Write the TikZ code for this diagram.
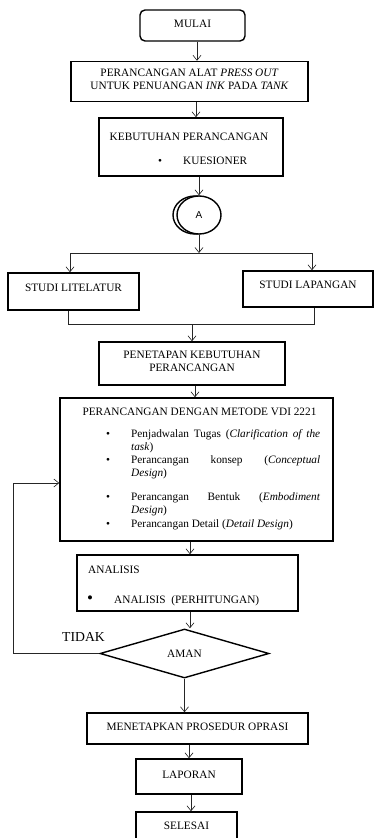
\documentclass[tikz,border=0pt]{standalone}
\usepackage{fontspec}
\setmainfont{Liberation Serif}
\setsansfont{Liberation Sans}
\usetikzlibrary{shapes.geometric,arrows.meta}

\begin{document}
\begin{tikzpicture}[x=1pt,y=-1pt,
    font=\fontsize{11.3}{13}\selectfont,
    kotak/.style={draw, line width=1.4pt, inner sep=0pt, align=center, text depth=4pt},
    teks/.style={inner sep=0pt},
    garis/.style={line width=0.65pt, draw=black!85},
    panah/.style={garis, -{Straight Barb[length=5pt,width=8pt]}}]
    \useasboundingbox (0,0) rectangle (374,838);
    \clip (0,0) rectangle (374,838);

    \node[kotak, rounded corners=5pt, minimum width=105pt, minimum height=31pt] (mulai) at (192.5,25.5) {MULAI};
    \node[kotak, minimum width=237pt, minimum height=40pt] (alat) at (189.5,81.5)
      {PERANCANGAN ALAT \textit{PRESS OUT}\\UNTUK PENUANGAN \textit{INK} PADA \textit{TANK}};

    \node[kotak, minimum width=184pt, minimum height=58pt] (butuh) at (191,147) {};
    \node[teks, anchor=base] (butuhjudul) at (189,140) {KEBUTUHAN PERANCANGAN};
    \node[teks, anchor=base west] (kuesioner) at (158,164) {\makebox[25pt][l]{\textbullet}KUESIONER};

    \draw[line width=1.4pt] (195,215) ellipse [x radius=22pt, y radius=19pt];
    \node[kotak, ellipse, fill=white, minimum width=44pt, minimum height=38pt, text depth=0pt,
      font=\sffamily\fontsize{10}{12}\selectfont] (A) at (199,215) {A};

    \coordinate (pisahL) at (70,253);
    \coordinate (pisahR) at (312,253);
    \node[kotak, text depth=8pt, minimum width=131pt, minimum height=37pt] (literatur) at (73.5,291.5) {STUDI LITELATUR};
    \node[kotak, text depth=8pt, minimum width=130pt, minimum height=36pt] (lapangan) at (308,289) {STUDI LAPANGAN};
    \coordinate (gabungL) at (68,324);
    \coordinate (gabungR) at (314,324);

    \node[kotak, minimum width=186pt, minimum height=43pt] (penetapan) at (192,363.5) {PENETAPAN KEBUTUHAN\\PERANCANGAN};

    \node[kotak, minimum width=273pt, minimum height=143pt] (vdi) at (196.5,469.5) {};
    \node[teks, anchor=base] (vdijudul) at (199.5,415) {PERANCANGAN DENGAN METODE VDI 2221};
    \node[teks, anchor=base west] (tugas) at (106,437)
      {\makebox[25pt][l]{\textbullet}\parbox[t]{189pt}{Penjadwalan Tugas (\textit{Clarification of the}\linebreak\textit{task})}};
    \node[teks, anchor=base west] (konsep) at (106,463)
      {\makebox[25pt][l]{\textbullet}\parbox[t]{189pt}{Perancangan konsep (\textit{Conceptual}\linebreak\textit{Design})}};
    \node[teks, anchor=base west] (bentuk) at (106,500)
      {\makebox[25pt][l]{\textbullet}\parbox[t]{189pt}{Perancangan Bentuk (\textit{Embodiment}\linebreak\textit{Design})}};
    \node[teks, anchor=base west] (detail) at (106,527)
      {\makebox[25pt][l]{\textbullet}Perancangan Detail (\textit{Detail Design})};

    \node[kotak, minimum width=221pt, minimum height=56pt] (analisis) at (187.5,583) {};
    \node[teks, anchor=base west] (analisisjudul) at (88,573) {ANALISIS};
    \node[teks, anchor=base west] (hitung) at (87,603)
      {\makebox[27pt][l]{\fontsize{17}{17}\selectfont\textbullet}ANALISIS\ \ (PERHITUNGAN)};

    \node[kotak, diamond, aspect=3.4, minimum width=169pt, minimum height=49pt, text depth=0pt] (aman) at (184.5,653.5) {AMAN};
    \node[teks, anchor=base, font=\fontsize{13.7}{16}\selectfont] (tidak) at (83.5,641) {TIDAK};
    \coordinate (balik) at (13,483);

    \node[kotak, minimum width=221pt, minimum height=31pt] (menetapkan) at (197.5,728.5) {MENETAPKAN PROSEDUR OPRASI};
    \node[kotak, minimum width=106pt, minimum height=35pt] (laporan) at (189,776.5) {LAPORAN};
    \node[kotak, text depth=10pt, minimum width=101pt, minimum height=38pt] (selesai) at (186.5,831) {SELESAI};

    \draw[panah] ([xshift=4.5pt]mulai.south) -- ([xshift=4.5pt]mulai.south |- alat.north);
    \draw[panah] ([xshift=6.5pt]alat.south) -- ([xshift=6.5pt]alat.south |- butuh.north);
    \draw[panah] (A.north |- butuh.south) -- (A.north);
    \draw[panah] (A.south) -- (A.south |- pisahL);
    \draw[garis] (pisahL) -- (pisahR);
    \draw[panah] (pisahL) -- (pisahL |- literatur.north);
    \draw[panah] (pisahR) -- (pisahR |- lapangan.north);
    \draw[garis] (gabungL |- literatur.south) -- (gabungL) -- (gabungR) -- (gabungR |- lapangan.south);
    \draw[panah] (gabungL -| penetapan.north) -- (penetapan.north);
    \draw[panah] ([xshift=3pt]penetapan.south) -- ([xshift=3pt]penetapan.south |- vdi.north);
    \draw[panah] ([xshift=-6.5pt]vdi.south) -- ([xshift=-6.5pt]vdi.south |- analisis.north);
    \draw[panah] ([xshift=2.5pt]analisis.south) -- ([xshift=2.5pt]analisis.south |- aman.north);
    \draw[panah] (aman.west) -| (balik) -- (balik -| vdi.west);
    \draw[panah] (aman.south) -- (aman.south |- menetapkan.north);
    \draw[panah] (laporan.north |- menetapkan.south) -- (laporan.north);
    \draw[panah] ([xshift=2pt]laporan.south) -- ([xshift=2pt]laporan.south |- selesai.north);
\end{tikzpicture}
\end{document}
